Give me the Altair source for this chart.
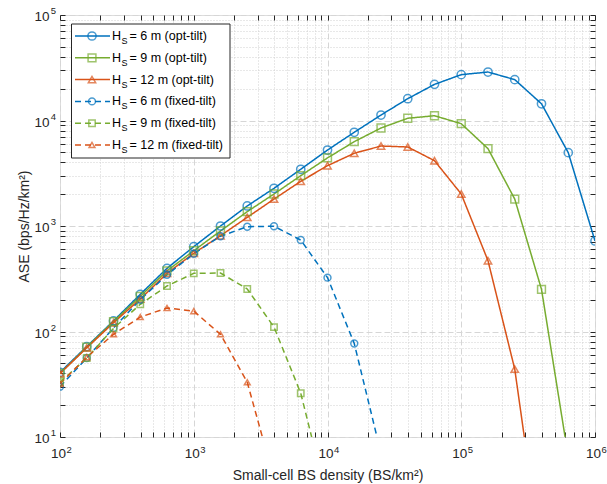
import altair as alt
import pandas as pd

# ---------------- data ----------------
density = [100, 158.5, 251.2, 398.1, 631.0, 1000, 1584.9, 2511.9, 3981.1, 6309.6,
           10000, 15848.9, 25118.9, 39810.7, 63095.7, 100000, 158489, 251189,
           398107, 630957, 1000000]

ase_6m_opt = [41, 72, 126, 225, 397, 637, 1000, 1549, 2276, 3450, 5250, 7730,
              11270, 16100, 22000, 27200, 28800, 24400, 14400, 4960, 721]
ase_9m_opt = [40, 71, 124, 215, 376, 583, 897, 1368, 2010, 3000, 4420, 6300,
              8490, 10500, 11100, 9330, 5410, 1800, 251, 6.5]
ase_12m_opt = [40, 70, 121, 203, 356, 551, 809, 1208, 1800, 2650, 3730, 4890,
               5730, 5610, 4160, 2010, 469, 44, 0.7]
ase_6m_fix = [30, 56, 108, 200, 345, 545, 800, 985, 995, 736, 324, 77, 7]
ase_9m_fix = [33, 56, 107, 181, 270, 356, 358, 253, 110, 26, 2.5]
ase_12m_fix = [32, 57, 94, 137, 167, 156, 94, 33, 4]

series_names = ["6 m (opt-tilt)", "9 m (opt-tilt)", "12 m (opt-tilt)",
                "6 m (fixed-tilt)", "9 m (fixed-tilt)", "12 m (fixed-tilt)"]
series_values = [ase_6m_opt, ase_9m_opt, ase_12m_opt,
                 ase_6m_fix, ase_9m_fix, ase_12m_fix]

major_x = [100, 1000, 10000, 100000, 1000000]
major_y = [10, 100, 1000, 10000, 100000]
minor_x = [m * 10 ** e for e in range(2, 6) for m in range(2, 10)]
minor_y = [m * 10 ** e for e in range(1, 5) for m in range(2, 10)]

# ---------------- styles ----------------
colors = ["#0072BD", "#77AC30", "#D95319", "#0072BD", "#77AC30", "#D95319"]
shapes = ["circle", "square", "triangle-up", "circle", "square", "triangle-up"]
sizes = [68, 34, 80, 68, 34, 80]
dashes = [[1, 0], [1, 0], [1, 0], [6, 4], [6, 4], [6, 4]]
FONT = "Liberation Sans"
AX = "#262626"

rows = []
for name, vals in zip(series_names, series_values):
    for xv, yv in zip(density, vals):
        rows.append({"x": xv, "y": yv, "series": name})
df = pd.DataFrame(rows)
leg_df = pd.DataFrame({"series": series_names, "row": list(range(6)),
                       "rest": ["= " + s for s in series_names]})

xscale = alt.Scale(type="log", domain=[100, 1e6], nice=False)
yscale = alt.Scale(type="log", domain=[10, 1e5], nice=False)
color_enc = alt.Color("series:N", scale=alt.Scale(domain=series_names, range=colors), legend=None)
shape_enc = alt.Shape("series:N", scale=alt.Scale(domain=series_names, range=shapes), legend=None)
size_enc = alt.Size("series:N", scale=alt.Scale(domain=series_names, range=sizes), legend=None)
dash_enc = alt.StrokeDash("series:N", scale=alt.Scale(domain=series_names, range=dashes), legend=None)


def ax_layer(xaxis, yaxis):
    return alt.Chart(df).mark_point(opacity=0, clip=True).encode(
        x=alt.X("x:Q", scale=xscale, axis=xaxis),
        y=alt.Y("y:Q", scale=yscale, axis=yaxis),
    )


def grid_axis(vals, dash, col, orient):
    return alt.Axis(values=vals, grid=True, gridDash=dash, gridColor=col, gridWidth=1,
                    labels=False, ticks=False, domain=False, title=None, orient=orient)


def tick_axis(vals, orient):
    return alt.Axis(values=vals, grid=False, labels=False, ticks=True, tickSize=5,
                    tickColor=AX, tickWidth=1, offset=-5, domain=False, title=None,
                    orient=orient)


def label_axis(vals, expr, size, pad, off, orient, align=None, title=None, tpad=0):
    kw = dict(values=vals, labelExpr=expr, labelFont=FONT, labelFontSize=size,
              labelColor=AX, labelPadding=pad, labelOffset=off, labelFlush=False,
              labelOverlap=False, ticks=False, domain=False, grid=False,
              orient=orient, title=title)
    if align:
        kw["labelAlign"] = align
    if title:
        kw.update(titleFont=FONT, titleFontSize=14, titleFontWeight="normal",
                  titleColor=AX, titlePadding=tpad)
    return alt.Axis(**kw)


grid_minor = ax_layer(grid_axis(minor_x, [1, 2], "#d0d0d0", "bottom"),
                      grid_axis(minor_y, [1, 2], "#d0d0d0", "left"))
grid_major = ax_layer(grid_axis(major_x, [6, 3], "#d6d6d6", "bottom"),
                      grid_axis(major_y, [6, 3], "#d6d6d6", "left"))
ticks_bl = ax_layer(tick_axis(major_x + minor_x, "bottom"), tick_axis(major_y + minor_y, "left"))
ticks_tr = ax_layer(tick_axis(major_x + minor_x, "top"), tick_axis(major_y + minor_y, "right"))

EXP = "'' + round(log(datum.value) / LN10)"
labels_base = ax_layer(
    label_axis(major_x, "'10'", 13.5, 9, -2, "bottom",
               title="Small-cell BS density (BS/km²)", tpad=9),
    label_axis(major_y, "'10'", 13.5, 11, 1.5, "left",
               title="ASE (bps/Hz/km²)", tpad=2),
)
labels_exp = ax_layer(
    label_axis(major_x, EXP, 9.5, 7, 6, "bottom", align="left"),
    label_axis(major_y, EXP, 9.5, 4.5, -4.5, "left"),
)

lines = alt.Chart(df).mark_line(clip=True, strokeWidth=1.5).encode(
    x=alt.X("x:Q", scale=xscale, axis=None),
    y=alt.Y("y:Q", scale=yscale, axis=None),
    color=color_enc, strokeDash=dash_enc, detail="series:N",
)
points = alt.Chart(df).mark_point(clip=True, filled=False, strokeWidth=1.5).encode(
    x=alt.X("x:Q", scale=xscale, axis=None),
    y=alt.Y("y:Q", scale=yscale, axis=None),
    color=color_enc, shape=shape_enc, size=size_enc,
)

# ---------------- legend ----------------
leg_y = alt.Y("row:Q", scale=alt.Scale(domain=[0, 5], range=[21, 130]), axis=None)
leg_box = alt.Chart(pd.DataFrame({"k": [0]})).mark_rect(
    fill="white", stroke=AX, strokeWidth=1).encode(
    x=alt.value(11.5), x2=alt.value(170), y=alt.value(9), y2=alt.value(143))
leg_rule = alt.Chart(leg_df).mark_rule(strokeWidth=1.5).encode(
    x=alt.value(15), x2=alt.value(50), y=leg_y, color=color_enc, strokeDash=dash_enc)
leg_pts = alt.Chart(leg_df).mark_point(filled=False, strokeWidth=1.5).encode(
    x=alt.value(32), y=leg_y, color=color_enc, shape=shape_enc, size=size_enc)
leg_h = alt.Chart(leg_df).mark_text(align="left", baseline="middle", font=FONT,
                                    fontSize=12.5, color="#000000").encode(
    x=alt.value(52), y=leg_y, text=alt.value("H"))
leg_s = alt.Chart(leg_df).mark_text(align="left", baseline="middle", font=FONT,
                                    fontSize=9, color="#000000", dy=5).encode(
    x=alt.value(61.5), y=leg_y, text=alt.value("S"))
leg_t = alt.Chart(leg_df).mark_text(align="left", baseline="middle", font=FONT,
                                    fontSize=12.5, color="#000000").encode(
    x=alt.value(69.5), y=leg_y, text="rest:N")

chart = alt.layer(
    grid_minor, grid_major, ticks_bl, ticks_tr, labels_base, labels_exp,
    lines, points, leg_box, leg_rule, leg_pts, leg_h, leg_s, leg_t,
).resolve_scale(
    x="independent", y="independent"
).resolve_axis(
    x="independent", y="independent"
).properties(
    width=535, height=422, autosize="none",
    padding={"left": 60, "top": 15, "right": 12, "bottom": 47},
    background="white",
).configure_view(stroke=AX, strokeWidth=1).configure(font=FONT)

chart.save("out.html", embed_options={"renderer": "svg", "actions": False})
